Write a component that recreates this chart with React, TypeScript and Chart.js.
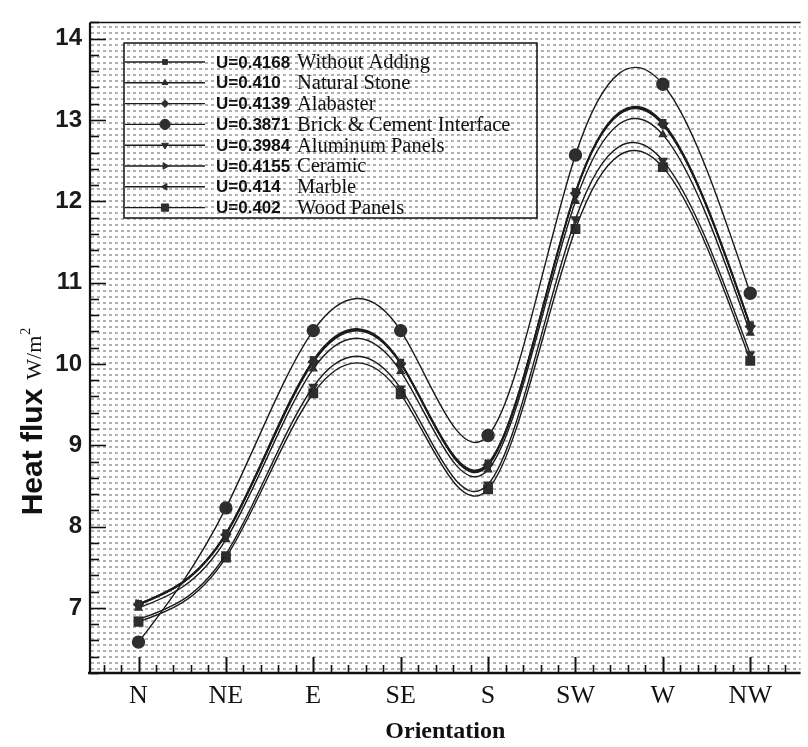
import React, { useEffect, useRef } from "react";
import { Chart, registerables } from "chart.js";
import { drawPoint } from "chart.js/helpers";

Chart.register(...registerables);

// ---- data ----
const orientations = ["N", "NE", "E", "SE", "S", "SW", "W", "NW"];
const uValues = ["U=0.4168", "U=0.410", "U=0.4139", "U=0.3871", "U=0.3984", "U=0.4155", "U=0.414", "U=0.402"];
const seriesNames = ["Without Adding", "Natural Stone", "Alabaster", "Brick & Cement Interface", "Aluminum Panels", "Ceramic", "Marble", "Wood Panels"];

const withoutAdding = [7.05, 7.92, 10.05, 10.02, 8.78, 12.12, 12.97, 10.48];
const naturalStone = [7.0, 7.84, 9.94, 9.91, 8.7, 12.0, 12.82, 10.38];
const alabaster = [7.04, 7.9, 10.03, 10.0, 8.76, 12.1, 12.95, 10.46];
const brickCement = [6.58, 8.23, 10.41, 10.41, 9.12, 12.57, 13.44, 10.87];
const aluminumPanels = [6.86, 7.66, 9.72, 9.7, 8.52, 11.78, 12.5, 10.12];
const ceramic = [7.05, 7.91, 10.04, 10.01, 8.77, 12.11, 12.96, 10.47];
const marble = [7.04, 7.9, 10.02, 10.0, 8.75, 12.1, 12.94, 10.46];
const woodPanels = [6.83, 7.62, 9.64, 9.63, 8.46, 11.66, 12.42, 10.04];

const yTickValues = [7, 8, 9, 10, 11, 12, 13, 14];

const seriesValues = [withoutAdding, naturalStone, alabaster, brickCement, aluminumPanels, ceramic, marble, woodPanels];
const markerStyles: any[] = ["rect", "triangle", "rectRot", "circle", "triangle", "triangle", "triangle", "rect"];
const markerRotations = [0, 0, 0, 0, 180, 90, -90, 0];
const markerRadii = [4, 4, 4.5, 6, 4.5, 4.5, 4.5, 6];

const LINE = "#1c1c1c";
const MARK = "#2e2e2e";

// natural cubic spline control points, computed on the pixel positions Chart.js gives the points
function applyNaturalSpline(points: any[]) {
  const n = points.length;
  if (n < 3) return;
  const x = points.map((p) => p.x);
  const y = points.map((p) => p.y);
  const h: number[] = [];
  for (let i = 0; i < n - 1; i++) h.push(x[i + 1] - x[i]);
  const M = new Array(n).fill(0);
  const m = n - 2;
  const a: number[] = [], b: number[] = [], c: number[] = [], d: number[] = [];
  for (let i = 1; i <= m; i++) {
    a.push(h[i - 1]);
    b.push(2 * (h[i - 1] + h[i]));
    c.push(h[i]);
    d.push(6 * ((y[i + 1] - y[i]) / h[i] - (y[i] - y[i - 1]) / h[i - 1]));
  }
  for (let i = 1; i < m; i++) {
    const w = a[i] / b[i - 1];
    b[i] -= w * c[i - 1];
    d[i] -= w * d[i - 1];
  }
  const sol = new Array(m).fill(0);
  sol[m - 1] = d[m - 1] / b[m - 1];
  for (let i = m - 2; i >= 0; i--) sol[i] = (d[i] - c[i] * sol[i + 1]) / b[i];
  for (let i = 1; i <= m; i++) M[i] = sol[i - 1];

  for (let i = 0; i < n - 1; i++) {
    const hi = h[i];
    const slope = (y[i + 1] - y[i]) / hi;
    const sL = slope - (hi * (2 * M[i] + M[i + 1])) / 6;
    const sR = slope + (hi * (M[i] + 2 * M[i + 1])) / 6;
    points[i].cp2x = x[i] + hi / 3;
    points[i].cp2y = y[i] + (sL * hi) / 3;
    points[i + 1].cp1x = x[i + 1] - hi / 3;
    points[i + 1].cp1y = y[i + 1] - (sR * hi) / 3;
  }
  points[0].cp1x = x[0];
  points[0].cp1y = y[0];
  points[n - 1].cp2x = x[n - 1];
  points[n - 1].cp2y = y[n - 1];
}

export default function App() {
  const canvasRef = useRef<HTMLCanvasElement | null>(null);

  useEffect(() => {
    const canvas = canvasRef.current;
    if (!canvas) return;
    const ctx = canvas.getContext("2d")!;

    // halftone-like dotted background
    const tile = document.createElement("canvas");
    tile.width = 6;
    tile.height = 6;
    const tctx = tile.getContext("2d")!;
    tctx.fillStyle = "#ffffff";
    tctx.fillRect(0, 0, 6, 6);
    tctx.fillStyle = "#b0b0b0";
    tctx.fillRect(1, 2, 3, 2);
    const pattern = ctx.createPattern(tile, "repeat");

    const splinePlugin = {
      id: "naturalSpline",
      afterDatasetsUpdate(chart: any) {
        chart.data.datasets.forEach((_: any, i: number) => {
          const meta = chart.getDatasetMeta(i);
          if (!meta || !meta.data) return;
          applyNaturalSpline(meta.data);
          if (meta.dataset) {
            meta.dataset._pointsUpdated = true;
            meta.dataset._path = undefined;
          }
        });
      },
      beforeDatasetDraw(chart: any, args: any) {
        const meta = args.meta;
        if (!meta || !meta.data) return;
        applyNaturalSpline(meta.data);
        if (meta.dataset) {
          meta.dataset._pointsUpdated = true;
          meta.dataset._path = undefined;
        }
      },
    };

    const bgPlugin = {
      id: "bgPattern",
      beforeDatasetsDraw(chart: any) {
        const { left, top, right, bottom } = chart.chartArea;
        const c = chart.ctx;
        c.save();
        if (pattern) {
          c.fillStyle = pattern;
          c.fillRect(left, top, right - left, bottom - top);
        }
        c.restore();
      },
    };

    const axesPlugin = {
      id: "axesTicks",
      afterDraw(chart: any) {
        const c = chart.ctx;
        const { left, top, right, bottom } = chart.chartArea;
        const xs = chart.scales.x;
        const ys = chart.scales.y;
        c.save();
        c.strokeStyle = "#111";
        // y ticks
        c.lineWidth = 1.6;
        for (let k = 31; k <= 71; k++) {
          const v = k / 5;
          const py = Math.round(ys.getPixelForValue(v)) + 0.5;
          const major = k % 5 === 0;
          c.beginPath();
          c.moveTo(left, py);
          c.lineTo(left + (major ? 16 : 9), py);
          c.stroke();
        }
        // x ticks
        for (let k = -2; k <= 37; k++) {
          const v = k / 5;
          const px = Math.round(xs.getPixelForValue(v)) + 0.5;
          if (px < left || px > right) continue;
          const major = k % 5 === 0;
          c.lineWidth = major ? 2 : 1.6;
          c.beginPath();
          c.moveTo(px, bottom);
          c.lineTo(px, bottom - (major ? 16 : 8));
          c.stroke();
        }
        // axis lines
        c.lineWidth = 2.2;
        c.beginPath();
        c.moveTo(left, top);
        c.lineTo(left, bottom);
        c.stroke();
        c.lineWidth = 2.6;
        c.beginPath();
        c.moveTo(left - 2, bottom);
        c.lineTo(right, bottom);
        c.stroke();
        c.lineWidth = 1.5;
        c.beginPath();
        c.moveTo(left, top);
        c.lineTo(right, top);
        c.stroke();

        // y title
        c.save();
        c.translate(42, 422);
        c.rotate(-Math.PI / 2);
        c.fillStyle = "#111";
        c.textBaseline = "alphabetic";
        const f1 = "bold 30px 'Liberation Sans', Arial, sans-serif";
        const f2 = "22px 'Liberation Serif', 'Times New Roman', serif";
        const f3 = "14px 'Liberation Serif', 'Times New Roman', serif";
        const p1 = "Heat flux";
        const p2 = "W/m";
        const p3 = "2";
        c.font = f1;
        const w1 = c.measureText(p1).width;
        c.font = f2;
        const w2 = c.measureText(p2).width;
        c.font = f3;
        const w3 = c.measureText(p3).width;
        const gap = 9;
        const total = w1 + gap + w2 + w3;
        let x0 = -total / 2;
        c.font = f1;
        c.fillText(p1, x0, 0);
        x0 += w1 + gap;
        c.font = f2;
        c.fillText(p2, x0, -1);
        x0 += w2;
        c.font = f3;
        c.fillText(p3, x0 + 1, -12);
        c.restore();

        // legend
        const bx = 124, by = 43, bw = 413, bh = 175;
        c.lineWidth = 1.5;
        c.strokeStyle = "#111";
        c.strokeRect(bx, by, bw, bh);
        const rowY0 = 62;
        const rowStep = 20.8;
        for (let i = 0; i < seriesNames.length; i++) {
          const yy = rowY0 + i * rowStep;
          c.lineWidth = 1.4;
          c.strokeStyle = LINE;
          c.beginPath();
          c.moveTo(bx + 1, yy);
          c.lineTo(205, yy);
          c.stroke();
          c.fillStyle = MARK;
          c.strokeStyle = MARK;
          c.lineWidth = 1;
          drawPoint(
            c,
            {
              pointStyle: markerStyles[i],
              radius: markerRadii[i] * 0.85,
              rotation: markerRotations[i],
              borderWidth: 1,
            } as any,
            165,
            yy
          );
          c.fillStyle = "#111";
          c.textBaseline = "middle";
          c.font = "bold 17px 'Liberation Sans', Arial, sans-serif";
          c.fillText(uValues[i], 216, yy + 1);
          c.font = "20.5px 'Liberation Serif', 'Times New Roman', serif";
          c.fillText(seriesNames[i], 297, yy + 1);
        }
        c.restore();
      },
    };

    const datasets = seriesValues.map((vals, i) => ({
      label: seriesNames[i],
      data: vals.map((v, j) => ({ x: j, y: v })),
      borderColor: LINE,
      borderWidth: 1.4,
      backgroundColor: MARK,
      pointBackgroundColor: MARK,
      pointBorderColor: MARK,
      pointStyle: markerStyles[i],
      pointRotation: markerRotations[i],
      pointRadius: markerRadii[i],
      tension: 0.4,
      cubicInterpolationMode: "default" as const,
      fill: false,
    }));

    const chart = new Chart(ctx, {
      type: "line",
      data: { datasets },
      options: {
        animation: false,
        responsive: false,
        layout: { padding: { top: 12, right: 0, left: 0, bottom: 0 } },
        plugins: {
          legend: { display: false },
          tooltip: { enabled: false },
        },
        elements: { line: { capBezierPoints: false } },
        scales: {
          x: {
            type: "linear",
            min: -0.555,
            max: 7.576,
            grid: { display: false, drawTicks: false },
            border: { display: false },
            afterFit: (s: any) => {
              s.height = 74;
            },
            afterBuildTicks: (s: any) => {
              s.ticks = orientations.map((_, i) => ({ value: i }));
            },
            ticks: {
              autoSkip: false,
              maxRotation: 0,
              padding: 8,
              color: "#111",
              font: { family: "'Liberation Serif', 'Times New Roman', serif", size: 26 },
              callback: (v: any) => orientations[Math.round(Number(v))] ?? "",
            },
            title: {
              display: true,
              text: "Orientation",
              color: "#111",
              font: { family: "'Liberation Serif', 'Times New Roman', serif", size: 24, weight: "bold" },
              padding: { top: 0, bottom: 1 },
            },
          },
          y: {
            type: "linear",
            min: 6.2,
            max: 14.2,
            grid: { display: false, drawTicks: false },
            border: { display: false },
            afterFit: (s: any) => {
              s.width = 90;
            },
            afterBuildTicks: (s: any) => {
              s.ticks = yTickValues.map((v) => ({ value: v }));
            },
            ticks: {
              autoSkip: false,
              padding: 8,
              color: "#1a1a1a",
              font: { family: "'Liberation Sans', Arial, sans-serif", size: 24, weight: "bold" },
              callback: (v: any) => String(Math.round(Number(v))),
            },
          },
        },
      },
      plugins: [splinePlugin, bgPlugin, axesPlugin],
    });

    return () => {
      chart.destroy();
    };
  }, []);

  return (
    <div style={{ position: "absolute", left: 0, top: 0, width: 808, height: 747, background: "#fff" }}>
      <canvas ref={canvasRef} width={808} height={747} style={{ display: "block" }} />
    </div>
  );
}
